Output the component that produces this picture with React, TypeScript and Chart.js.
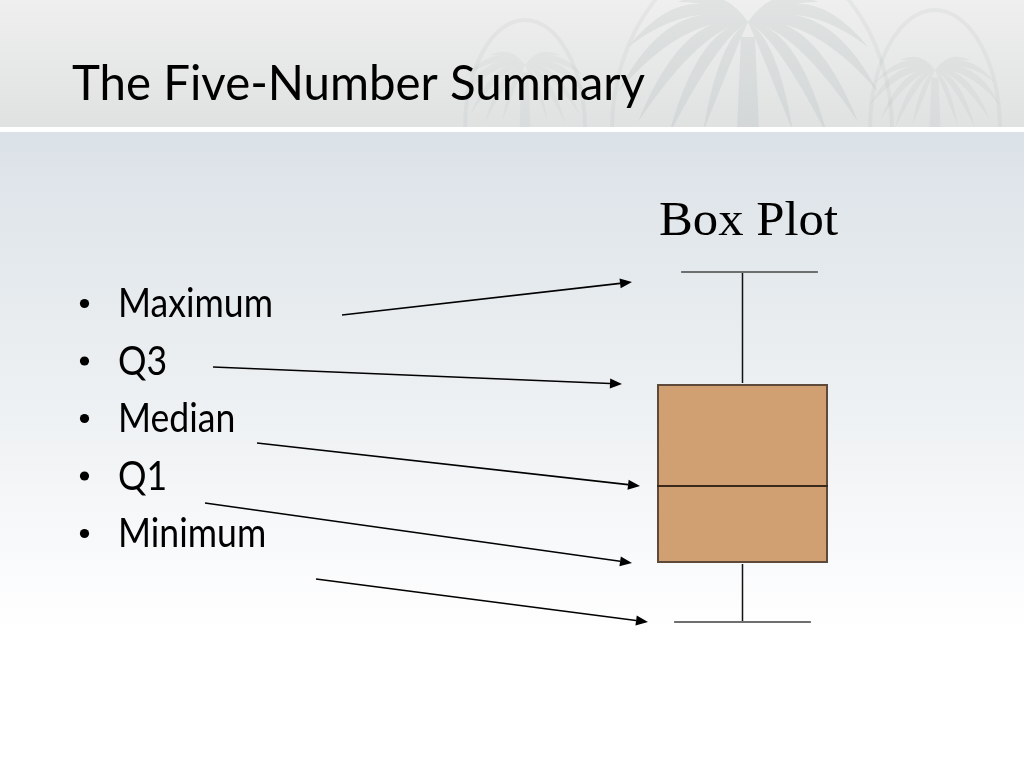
import React, { useEffect, useRef } from "react";
import { Chart, registerables } from "chart.js";

Chart.register(...registerables);

// ---------- data ----------
const pageTitle = "The Five-Number Summary";
const chartTitle = "Box Plot";
const categories = ["Box Plot"];
const statLabels = ["Maximum", "Q3", "Median", "Q1", "Minimum"];
const maximumValues = [45.0];
const q3Values = [33.8];
const medianValues = [23.6];
const q1Values = [15.9];
const minimumValues = [10.0];
// value each label's arrow points at (same order as statLabels)
const arrowTargetValues = [44.0, 33.8, 23.6, 15.9, 10.0];
const yMin = 0;
const yMax = 60;

// ---------- layout / style ----------
const W = 1024;
const H = 768;
const TEXT_FONT = "Lato, 'Open Sans', sans-serif";
const SERIF_FONT = "'Liberation Serif', 'DejaVu Serif', serif";
const bulletBaselines = [317, 374.5, 432, 489.5, 547];
const arrowStarts = [
  [342, 315],
  [213, 367],
  [257, 443],
  [205, 503],
  [316, 579],
];
const arrowTipX = [632, 622, 640, 632, 648];
const capOffsets = [7, 0]; // top, bottom cap horizontal shift (px)

// draw text with a given cap height, squeezed/stretched horizontally to a target width
function drawFittedText(
  ctx: CanvasRenderingContext2D,
  text: string,
  family: string,
  capHeight: number,
  targetWidth: number | null,
  x: number,
  y: number,
  align: "left" | "center"
) {
  ctx.font = `100px ${family}`;
  const capRef = ctx.measureText("H").actualBoundingBoxAscent || 72;
  const size = (100 * capHeight) / capRef;
  ctx.font = `${size}px ${family}`;
  const w = ctx.measureText(text).width;
  const sx = targetWidth ? targetWidth / w : 1;
  ctx.save();
  ctx.translate(x, y);
  ctx.scale(sx, 1);
  ctx.textAlign = "left";
  ctx.textBaseline = "alphabetic";
  ctx.fillText(text, align === "center" ? -w / 2 : 0, 0);
  ctx.restore();
  return sx;
}

function addLeaf(p: Path2D, x0: number, y0: number, qx: number, qy: number, x1: number, y1: number, w: number) {
  const dx = x1 - x0;
  const dy = y1 - y0;
  const len = Math.hypot(dx, dy) || 1;
  const nx = -dy / len;
  const ny = dx / len;
  p.moveTo(x0, y0);
  p.quadraticCurveTo(qx + nx * w, qy + ny * w, x1, y1);
  p.quadraticCurveTo(qx - nx * w, qy - ny * w, x0, y0);
  p.closePath();
}

function drawPalm(ctx: CanvasRenderingContext2D, cx: number, cy: number, s: number, color: string) {
  const p = new Path2D();
  // trunk
  p.moveTo(cx - 7 * s, cy + 15 * s);
  p.lineTo(cx + 7 * s, cy + 15 * s);
  p.lineTo(cx + 11 * s, 130);
  p.lineTo(cx - 11 * s, 130);
  p.closePath();
  const fronds = [
    // [ctrlX, ctrlY, endX, endY, width]
    [-70, -20, -130, 70, 14],
    [-55, -5, -110, 100, 13],
    [-40, 10, -80, 115, 12],
    [-20, 20, -45, 110, 10],
    [-60, -35, -120, 25, 12],
    [70, -20, 130, 70, 14],
    [55, -5, 110, 100, 13],
    [40, 10, 80, 115, 12],
    [20, 20, 45, 110, 10],
    [60, -35, 120, 25, 12],
    [-30, -30, -70, -20, 10],
    [30, -30, 70, -20, 10],
  ];
  for (const [qx, qy, ex, ey, w] of fronds) {
    addLeaf(p, cx, cy, cx + qx * s, cy + qy * s, cx + ex * s, cy + ey * s, w * s);
  }
  ctx.fillStyle = color;
  ctx.fill(p);
}

const backgroundPlugin = {
  id: "slideBackground",
  beforeDraw(chart: any) {
    const ctx: CanvasRenderingContext2D = chart.ctx;
    ctx.save();
    // body
    ctx.fillStyle = "#ffffff";
    ctx.fillRect(0, 0, W, H);
    const bg = ctx.createLinearGradient(0, 132, 0, 640);
    bg.addColorStop(0, "#dbe2e7");
    bg.addColorStop(0.55, "#eef1f3");
    bg.addColorStop(1, "#ffffff");
    ctx.fillStyle = bg;
    ctx.fillRect(0, 132, W, 508);

    // header band
    const hg = ctx.createLinearGradient(0, 0, 0, 127);
    hg.addColorStop(0, "#eeefee");
    hg.addColorStop(1, "#e0e2e2");
    ctx.fillStyle = hg;
    ctx.fillRect(0, 0, W, 127);

    // faint watermark
    ctx.save();
    ctx.beginPath();
    ctx.rect(0, 0, W, 127);
    ctx.clip();
    ctx.strokeStyle = "rgba(140,150,150,0.09)";
    ctx.lineWidth = 4;
    ctx.beginPath();
    ctx.ellipse(752, 130, 140, 180, 0, 0, Math.PI * 2);
    ctx.stroke();
    ctx.beginPath();
    ctx.ellipse(935, 130, 65, 120, 0, 0, Math.PI * 2);
    ctx.stroke();
    ctx.beginPath();
    ctx.ellipse(525, 130, 60, 110, 0, 0, Math.PI * 2);
    ctx.stroke();
    drawPalm(ctx, 748, 22, 1.0, "rgba(125,138,138,0.12)");
    drawPalm(ctx, 935, 70, 0.5, "rgba(125,138,138,0.08)");
    drawPalm(ctx, 525, 65, 0.5, "rgba(125,138,138,0.06)");
    ctx.restore();

    // separator
    ctx.fillStyle = "#ffffff";
    ctx.fillRect(0, 127, W, 5);

    // page title
    ctx.fillStyle = "#000000";
    drawFittedText(ctx, pageTitle, TEXT_FONT, 35, 573, 72, 100, "left");

    // bullets
    ctx.font = `100px ${TEXT_FONT}`;
    const capRef = ctx.measureText("H").actualBoundingBoxAscent || 72;
    const bSize = (100 * 29) / capRef;
    ctx.font = `${bSize}px ${TEXT_FONT}`;
    const sx = 155 / ctx.measureText(statLabels[0]).width;
    statLabels.forEach((lbl, i) => {
      const by = bulletBaselines[i];
      ctx.beginPath();
      ctx.arc(84.5, by - 13.5, 4.6, 0, Math.PI * 2);
      ctx.fill();
      ctx.save();
      ctx.translate(118, by);
      ctx.scale(sx, 1);
      ctx.textAlign = "left";
      ctx.textBaseline = "alphabetic";
      ctx.fillText(lbl, 0, 0);
      ctx.restore();
    });

    // chart title
    const area = chart.chartArea;
    drawFittedText(ctx, chartTitle, SERIF_FONT, 32, 179, (area.left + area.right) / 2 + 6, 235, "center");
    ctx.restore();
  },
};

function arrow(ctx: CanvasRenderingContext2D, x1: number, y1: number, x2: number, y2: number) {
  const ang = Math.atan2(y2 - y1, x2 - x1);
  const len = 12;
  const half = 5;
  const bx = x2 - len * Math.cos(ang);
  const by = y2 - len * Math.sin(ang);
  ctx.beginPath();
  ctx.moveTo(x1, y1);
  ctx.lineTo(bx, by);
  ctx.stroke();
  ctx.beginPath();
  ctx.moveTo(x2, y2);
  ctx.lineTo(bx + half * Math.sin(ang), by - half * Math.cos(ang));
  ctx.lineTo(bx - half * Math.sin(ang), by + half * Math.cos(ang));
  ctx.closePath();
  ctx.fill();
}

const boxPlotPlugin = {
  id: "boxPlotParts",
  afterDatasetsDraw(chart: any) {
    const ctx: CanvasRenderingContext2D = chart.ctx;
    const y = chart.scales.y;
    const meta = chart.getDatasetMeta(0);
    ctx.save();
    meta.data.forEach((bar: any, i: number) => {
      const { x, width } = bar.getProps(["x", "width"], true);
      const left = x - width / 2;
      const right = x + width / 2;
      const yMaxP = y.getPixelForValue(maximumValues[i]);
      const yQ3 = y.getPixelForValue(q3Values[i]);
      const yMed = y.getPixelForValue(medianValues[i]);
      const yQ1 = y.getPixelForValue(q1Values[i]);
      const yMinP = y.getPixelForValue(minimumValues[i]);
      const wx = Math.round(x) - 0.5;
      // whiskers
      ctx.strokeStyle = "#111111";
      ctx.lineWidth = 1.5;
      ctx.beginPath();
      ctx.moveTo(wx, yMaxP);
      ctx.lineTo(wx, yQ3 - 1);
      ctx.moveTo(wx, yQ1 + 1);
      ctx.lineTo(wx, yMinP);
      ctx.stroke();
      // caps
      const capHalf = width * 0.4;
      ctx.strokeStyle = "#6e7070";
      ctx.lineWidth = 2;
      ctx.beginPath();
      ctx.moveTo(x - capHalf + capOffsets[0], yMaxP);
      ctx.lineTo(x + capHalf + capOffsets[0], yMaxP);
      ctx.moveTo(x - capHalf + capOffsets[1], yMinP);
      ctx.lineTo(x + capHalf + capOffsets[1], yMinP);
      ctx.stroke();
      // median
      ctx.strokeStyle = "#3b2a1c";
      ctx.lineWidth = 2;
      ctx.beginPath();
      ctx.moveTo(left, yMed);
      ctx.lineTo(right, yMed);
      ctx.stroke();
    });

    // arrows
    ctx.strokeStyle = "#000000";
    ctx.fillStyle = "#000000";
    ctx.lineWidth = 1.6;
    arrowTargetValues.forEach((v, i) => {
      const [sx, sy] = arrowStarts[i];
      arrow(ctx, sx, sy, arrowTipX[i], y.getPixelForValue(v));
    });
    ctx.restore();
  },
};

export default function App() {
  const ref = useRef<HTMLCanvasElement | null>(null);
  useEffect(() => {
    if (!ref.current) return;
    const chart = new Chart(ref.current, {
      type: "bar",
      data: {
        labels: categories,
        datasets: [
          {
            label: chartTitle,
            data: q1Values.map((q1, i) => [q1, q3Values[i]]) as any,
            backgroundColor: "#d1a072",
            borderColor: "#5d4a3a",
            borderWidth: 2,
            borderSkipped: false,
            barPercentage: 0.6,
            categoryPercentage: 1,
          },
        ],
      },
      options: {
        animation: false,
        responsive: false,
        devicePixelRatio: 1,
        events: [],
        layout: { padding: { left: 600, right: 139, top: 122, bottom: 46 } },
        plugins: {
          legend: { display: false },
          title: { display: false },
          tooltip: { enabled: false },
        },
        scales: {
          x: { display: false },
          y: { display: false, min: yMin, max: yMax },
        },
      },
      plugins: [backgroundPlugin, boxPlotPlugin],
    });
    return () => chart.destroy();
  }, []);
  return (
    <canvas
      ref={ref}
      width={W}
      height={H}
      style={{ position: "fixed", left: 0, top: 0, width: W, height: H, display: "block" }}
    />
  );
}
